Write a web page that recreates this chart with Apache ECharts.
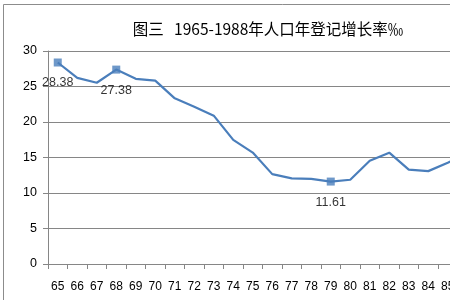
<!DOCTYPE html>
<html><head><meta charset="utf-8">
<script src="https://cdn.jsdelivr.net/npm/echarts@6/dist/echarts.min.js"></script>
<style>html,body{margin:0;padding:0;background:#fff;overflow:hidden;width:450px;height:300px}#c{width:560px;height:300px}</style>
</head><body><div id="c"></div>
<script>
var titleText = '图三   1965-1988年人口年登记增长率‰';
var categories = ['65','66','67','68','69','70','71','72','73','74','75','76','77','78','79','80','81','82','83','84','85','86','87','88'];
var growthRate = [28.38,26.22,25.53,27.38,26.08,25.83,23.33,22.16,20.89,17.48,15.69,12.66,12.06,12.00,11.61,11.87,14.55,15.68,13.29,13.08,14.26,15.57,16.61,15.73];
var markedIdx = [0, 3, 14];

var markData = growthRate.map(function(v, i){ return markedIdx.indexOf(i) >= 0 ? v : null; });

var chart = echarts.init(document.getElementById('c'), null, {renderer:'canvas'});
chart.setOption({
  animation:false,
  backgroundColor:'#fff',
  graphic:[{type:'rect', shape:{x:3.5,y:4.5,width:600,height:400}, style:{fill:'none',stroke:'#8c8c8c',lineWidth:1}, z:-1}],
  title:{text:titleText, left:263, top:16, textAlign:'center',
    textStyle:{fontSize:15.5, fontWeight:'normal', color:'#000', fontFamily:'Noto Sans CJK SC'}},
  grid:{left:48, top:51, bottom:36, width:468, containLabel:false},
  xAxis:{type:'category', data:categories, boundaryGap:true,
    axisLine:{lineStyle:{color:'#868686', width:1}},
    axisTick:{show:true, length:5, inside:false, lineStyle:{color:'#868686'}},
    axisLabel:{color:'#000', fontSize:12, margin:17, fontFamily:'Liberation Sans', interval:0}},
  yAxis:{type:'value', min:0, max:30, interval:5,
    axisLine:{show:true, lineStyle:{color:'#868686'}},
    axisTick:{show:true, length:5, lineStyle:{color:'#868686'}},
    splitLine:{lineStyle:{color:'#868686', width:1}},
    axisLabel:{color:'#000', fontSize:12.5, margin:11, fontFamily:'Liberation Sans'}},
  series:[
    {type:'line', data:growthRate, symbol:'none', lineStyle:{color:'#4a7ebb', width:2.2}, z:2},
    {type:'scatter', data:markData, symbol:'rect', symbolSize:8,
      itemStyle:{color:'#4a7ebb'}, z:3,
      label:{show:true, position:'bottom', distance:10, color:'#000', fontSize:12.5, fontFamily:'Liberation Sans',
        formatter:function(p){ return p.value.toFixed(2); }}}
  ]
});
</script></body></html>
